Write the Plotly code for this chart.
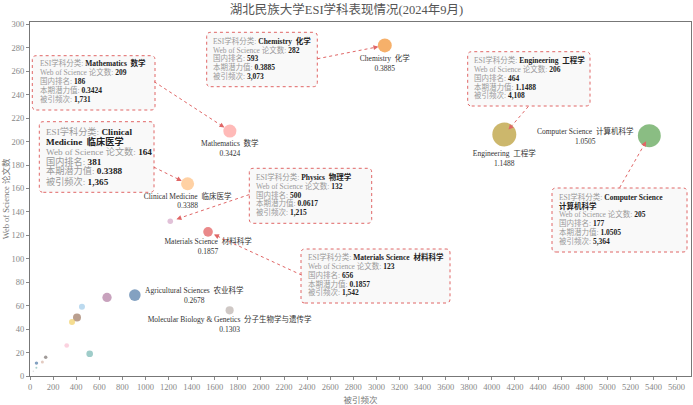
import math
import plotly.graph_objects as go

# ---------------- data ----------------
subjects_en = ["Chemistry", "Mathematics", "Clinical Medicine", "Physics",
               "Materials Science", "Engineering", "Computer Science",
               "Agricultural Sciences", "Molecular Biology & Genetics"]
subjects_zh = ["化学", "数学", "临床医学", "物理学", "材料科学", "工程学",
               "计算机科学", "农业科学", "分子生物学与遗传学"]
citations = [3073, 1731, 1365, 1215, 1542, 4108, 5364, 908, 1729]
papers = [282, 209, 164, 132, 123, 206, 205, 69, 56]
potential = [0.3885, 0.3424, 0.3388, 0.0617, 0.1857, 1.1488, 1.0505, 0.2678, 0.1303]
ranks = [593, 186, 381, 500, 656, 464, 177, None, None]

# unlabeled subjects
other_citations = [667, 450, 407, 364, 318, 517, 136, 107, 56, 55, 29]
other_papers = [67, 59, 50, 46, 26, 19, 16, 12, 11, 7, 4]
other_potential = [0.172, 0.072, 0.128, 0.072, 0.044, 0.089, 0.024, 0.018, 0.024, 0.008, 0.004]

# ---------------- styles ----------------
colors = ["#F28E2B", "#FF9D9A", "#FFBE7D", "#D4A6C8", "#E15759", "#B6992D",
          "#59A14F", "#4E79A7", "#BAB0AC"]
other_colors = ["#B07AA1", "#A0CBE8", "#9D7660", "#F1CE63", "#FABFD2", "#76B7B2",
                "#79706E", "#D7B5A6", "#4E79A7", "#86BCB6", "#CCCCCC"]
# label placement: "below", "left", "right" or None
label_side = ["below", "below", "below", None, "below", "below", "left", "right", "below"]

FONT = "'Liberation Serif', 'Times New Roman', 'Noto Sans CJK SC', serif"
W, H = 693, 405
L, R, T, B = 30, 691, 22, 376
PW, PH = R - L, B - T
SIZEREF = 0.004

def px(xp):
    return (xp - L) / PW

def py(yp):
    return (B - yp) / PH

def radius(p):
    return math.sqrt(p / (2 * SIZEREF))

def label_text(i):
    return f"{subjects_en[i]}&nbsp;&nbsp;{subjects_zh[i]}<br>{potential[i]:.4f}"

labels = [label_text(i) if s == "below" else "" for i, s in enumerate(label_side)]

fig = go.Figure()
fig.add_trace(go.Scatter(
    x=other_citations, y=other_papers, mode="markers",
    marker=dict(size=other_potential, sizemode="area", sizeref=SIZEREF,
                color=other_colors, line=dict(width=0)),
    hoverinfo="skip", showlegend=False,
))
fig.add_trace(go.Scatter(
    x=citations, y=papers, mode="markers+text",
    text=labels, textposition="bottom center",
    textfont=dict(family=FONT, size=7.5, color="#333"),
    marker=dict(size=potential, sizemode="area", sizeref=SIZEREF,
                color=colors, line=dict(width=0)),
    hovertemplate="%{x}, %{y}<extra></extra>", showlegend=False,
))

shapes = []
annotations = []

# side labels (centered two-line blocks)
for i, s in enumerate(label_side):
    if s in ("left", "right"):
        r = radius(potential[i]) + 2
        annotations.append(dict(
            x=citations[i], y=papers[i], xref="x", yref="y", showarrow=False,
            text=label_text(i), align="center",
            xanchor="right" if s == "left" else "left", yanchor="middle",
            xshift=-r if s == "left" else r,
            font=dict(family=FONT, size=7.5, color="#333")))

# ---------------- callout boxes ----------------
boxes = [
    (1, (32.3, 55.7, 155, 110), 37.5, 63.3, 9.0, 7.5, None, (-75.7, -49.3)),
    (2, (39.3, 121.7, 154, 192.3), 44.3, 131, 10.0, 9.2, ["Clinical", "Medicine&nbsp;&nbsp;临床医学"], (-33.7, -16.6)),
    (0, (206.7, 32.3, 317.3, 86.7), 211, 41, 8.7, 7.5, None, (-67.4, 13.3)),
    (3, (249.3, 168.3, 371.7, 223.3), 254, 176.7, 8.9, 7.5, None, (79, -26.7)),
    (4, (301, 249, 450, 303), 306, 257.3, 8.75, 7.5, None, (93.7, 43.3)),
    (5, (467.7, 51.7, 590, 106), 472.3, 60.3, 8.75, 7.5, None, (24, -28)),
    (6, (552, 188, 687, 252), 556.7, 196.7, 8.9, 7.5, ["Computer Science", "计算机科学"], (-29.7, 52)),
]

RED = "#E06666"
GRAY = "#9A9A9A"

def rounded_rect(x0, y0, x1, y1, r=4):
    rx, ry = r / PW, r / PH
    a0, a1 = px(x0), px(x1)
    b0, b1 = py(y1), py(y0)
    return (f"M {a0+rx},{b0} L {a1-rx},{b0} Q {a1},{b0} {a1},{b0+ry} "
            f"L {a1},{b1-ry} Q {a1},{b1} {a1-rx},{b1} L {a0+rx},{b1} "
            f"Q {a0},{b1} {a0},{b1-ry} L {a0},{b0+ry} Q {a0},{b0} {a0+rx},{b0} Z")

def lab(s):
    return f'<span style="color:{GRAY}">{s}</span>'

for idx, (bx0, by0, bx1, by1), tx, ty0, ls, fs, name_lines, tail in boxes:
    shapes.append(dict(type="path", xref="paper", yref="paper",
                       path=rounded_rect(bx0, by0, bx1, by1),
                       line=dict(color=RED, width=1, dash="dot"),
                       fillcolor="rgba(248,248,248,0.92)", layer="above"))
    if name_lines is None:
        name_lines = [f"{subjects_en[idx]}&nbsp;&nbsp;{subjects_zh[idx]}"]
    lines = [lab("ESI学科分类: ") + f"<b>{name_lines[0]}</b>"]
    lines += [f"<b>{n}</b>" for n in name_lines[1:]]
    lines += [
        lab("Web of Science 论文数: ") + f"<b>{papers[idx]}</b>",
        lab("国内排名: ") + f"<b>{ranks[idx]}</b>",
        lab("本期潜力值: ") + f"<b>{potential[idx]:.4f}</b>",
        lab("被引频次: ") + f"<b>{citations[idx]:,}</b>",
    ]
    for k, t in enumerate(lines):
        annotations.append(dict(
            xref="paper", yref="paper", x=px(tx), y=py(ty0 + k * ls),
            xanchor="left", yanchor="middle", showarrow=False, text=t,
            font=dict(family=FONT, size=fs, color="#222")))
    dx, dy = tail
    dist = math.hypot(dx, dy)
    ux, uy = dx / dist, dy / dist
    stand = 6.5
    shapes.append(dict(type="line", xref="x", yref="y",
                       xsizemode="pixel", ysizemode="pixel",
                       xanchor=citations[idx], yanchor=papers[idx],
                       x0=dx, y0=-dy, x1=ux * (stand + 4), y1=-uy * (stand + 4),
                       line=dict(color=RED, width=1, dash="dot"), layer="above"))
    annotations.append(dict(
        x=citations[idx], y=papers[idx], xref="x", yref="y", text="",
        showarrow=True, ax=ux * (stand + 6), ay=uy * (stand + 6),
        arrowhead=2, arrowsize=1, arrowwidth=1, arrowcolor=RED, standoff=stand))

axis_common = dict(showgrid=False, zeroline=False, showline=True, linecolor="#777",
                   linewidth=1, mirror=True, ticks="outside", ticklen=3,
                   tickcolor="#888", tickfont=dict(family=FONT, size=8.5, color="#888"),
                   automargin=False)

fig.update_layout(
    width=W, height=H,
    margin=dict(l=L, r=W - R, t=T, b=H - B),
    paper_bgcolor="white", plot_bgcolor="white",
    title=dict(text="湖北民族大学ESI学科表现情况(2024年9月)", x=0.5, xref="container",
               xanchor="center", y=1 - 10 / H, yref="container", yanchor="middle",
               font=dict(family=FONT, size=12.5, color="#555")),
    xaxis=dict(range=[0, 5725], tick0=0, dtick=200, **axis_common,
               title=dict(text="被引频次", standoff=6,
                          font=dict(family=FONT, size=8.5, color="#777"))),
    yaxis=dict(range=[0, 302], tick0=0, dtick=20, **axis_common,
               title=dict(text="Web of Science 论文数", standoff=0,
                          font=dict(family=FONT, size=8.5, color="#777"))),
    shapes=shapes, annotations=annotations,
)

fig.write_html("out.html", config={"displayModeBar": False},
               post_script="document.body.style.margin='0';")
